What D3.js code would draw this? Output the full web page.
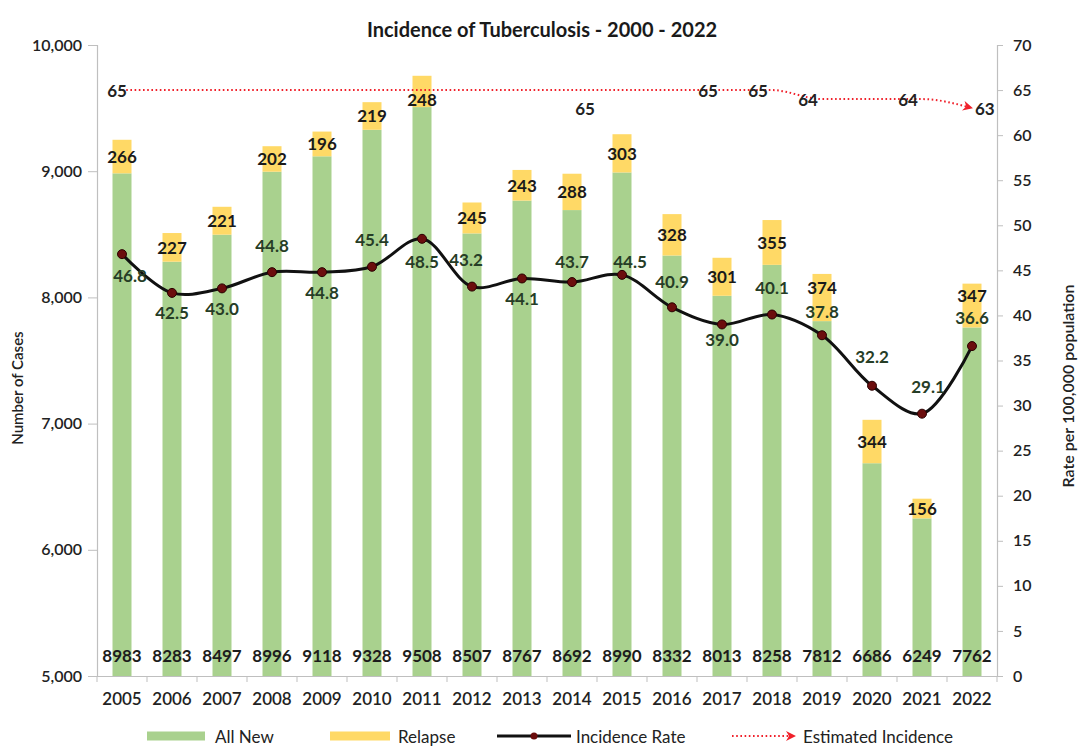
<!DOCTYPE html>
<html>
<head>
<meta charset="utf-8">
<script src="https://cdn.jsdelivr.net/npm/d3@7"></script>
<style>
  html, body { margin: 0; padding: 0; background: #ffffff; }
  svg { display: block; font-family: Lato, "Open Sans", sans-serif; }
</style>
</head>
<body>
<svg id="chart" width="1082" height="747"></svg>
<script>
// ---------- data ----------
const years = ["2005","2006","2007","2008","2009","2010","2011","2012","2013","2014","2015","2016","2017","2018","2019","2020","2021","2022"];
const allNew = [8983, 8283, 8497, 8996, 9118, 9328, 9508, 8507, 8767, 8692, 8990, 8332, 8013, 8258, 7812, 6686, 6249, 7762];
const relapse = [266, 227, 221, 202, 196, 219, 248, 245, 243, 288, 303, 328, 301, 355, 374, 344, 156, 347];
const incidenceRate = [46.8, 42.5, 43.0, 44.8, 44.8, 45.4, 48.5, 43.2, 44.1, 43.7, 44.5, 40.9, 39.0, 40.1, 37.8, 32.2, 29.1, 36.6];
const estimatedIncidence = [65, 65, 65, 65, 65, 65, 65, 65, 65, 65, 65, 65, 65, 65, 64, 64, 64, 63];
const estimatedLabelYears = ["2005", "2014", "2017", "2018", "2019", "2021", "2022"];
const leftTicks = [5000, 6000, 7000, 8000, 9000, 10000];
const rightTicks = [0, 5, 10, 15, 20, 25, 30, 35, 40, 45, 50, 55, 60, 65, 70];
const seriesNames = ["All New", "Relapse", "Incidence Rate", "Estimated Incidence"];
const titleText = "Incidence of Tuberculosis - 2000 - 2022";

// ---------- layout / style ----------
const L = 97, R = 997, T = 45, B = 676;
const GREEN = "#a9d18e", YELLOW = "#ffd966", RED = "#f0202a", AXIS = "#bfbfbf";
// label placement (dx, dy) for rate labels
const rateLabelPos = [[8,21],[0,20],[0,20],[0,-27],[0,20],[0,-27],[0,23],[-6,-27],[0,20],[0,-21],[8,-13],[0,-26],[0,15],[0,-27],[0,-24],[0,-29],[6,-27],[0,-29]];
const relapseLabelDy = {"2011": 8, "2022": -10, "2019": -10};
const estLabelPos = {"2005":[-5,0,"middle"],"2014":[13,18,"middle"],"2017":[-14,0,"middle"],"2018":[-14,0,"middle"],"2019":[-14,0,"middle"],"2021":[-14,0,"middle"],"2022":[3,0,"start"]};

const svg = d3.select("#chart");

const x = d3.scaleBand().domain(years).range([L, R]).paddingInner(0.62).paddingOuter(0.31);
const yL = d3.scaleLinear().domain([5000, 10000]).range([B, T]);
const yR = d3.scaleLinear().domain([0, 70]).range([B, T]);
const cx = d => x(d) + x.bandwidth() / 2;

// ---------- title ----------
svg.append("text").attr("x", 542).attr("y", 29).attr("text-anchor", "middle")
  .attr("dominant-baseline", "central").attr("font-size", 20).attr("font-weight", 700)
  .attr("fill", "#1a1a1a").text(titleText);

// ---------- bars ----------
const rows = years.map((y, i) => ({ year: y, n: allNew[i], r: relapse[i], rate: incidenceRate[i], est: estimatedIncidence[i] }));

svg.append("g").selectAll("rect").data(rows).join("rect")
  .attr("x", d => x(d.year)).attr("width", x.bandwidth())
  .attr("y", d => yL(d.n)).attr("height", d => yL(5000) - yL(d.n))
  .attr("fill", GREEN);

svg.append("g").selectAll("rect").data(rows).join("rect")
  .attr("x", d => x(d.year)).attr("width", x.bandwidth())
  .attr("y", d => yL(d.n + d.r)).attr("height", d => yL(d.n) - yL(d.n + d.r))
  .attr("fill", YELLOW);

// ---------- axes ----------
const gL = svg.append("g").attr("transform", `translate(${L},0)`)
  .call(d3.axisLeft(yL).tickValues(leftTicks).tickFormat(d3.format(",")).tickSize(9).tickPadding(6));
const gR = svg.append("g").attr("transform", `translate(${R},0)`)
  .call(d3.axisRight(yR).tickValues(rightTicks).tickSize(6).tickPadding(10));
const gX = svg.append("g").attr("transform", `translate(0,${B})`)
  .call(d3.axisBottom(x).tickSize(0).tickPadding(17));
[gL, gR, gX].forEach(g => {
  g.select(".domain").attr("stroke", AXIS).attr("stroke-width", 1.2);
  g.selectAll(".tick line").attr("stroke", AXIS);
  g.selectAll(".tick text").attr("font-size", 16).attr("font-weight", 600).attr("fill", "#222")
    .attr("font-family", "Lato, sans-serif");
});
gX.selectAll(".tick text").attr("font-size", 17);
gX.select(".domain").attr("d", `M${L},0.5H${R}`);
// category separator ticks
gX.append("g").selectAll("line").data(years.concat(["__end"])).join("line")
  .attr("x1", (d, i) => L + i * x.step()).attr("x2", (d, i) => L + i * x.step())
  .attr("y1", 0).attr("y2", 6).attr("stroke", AXIS);

// axis titles
svg.append("text").attr("transform", "translate(17,388) rotate(-90)")
  .attr("text-anchor", "middle").attr("dominant-baseline", "central")
  .attr("font-size", 15).attr("font-weight", 600).attr("fill", "#222").text("Number of Cases");
svg.append("text").attr("transform", "translate(1067,386) rotate(-90)")
  .attr("text-anchor", "middle").attr("dominant-baseline", "central")
  .attr("font-size", 16).attr("font-weight", 600).attr("fill", "#222").text("Rate per 100,000 population");

// ---------- estimated incidence (dotted red w/ arrow) ----------
const defs = svg.append("defs");
defs.append("marker").attr("id", "arrow").attr("viewBox", "0 0 10 10")
  .attr("refX", 9).attr("refY", 5).attr("markerWidth", 5).attr("markerHeight", 5)
  .attr("markerUnits", "strokeWidth").attr("orient", "auto")
  .append("path").attr("d", "M0,0L10,5L0,10L3,5Z").attr("fill", RED);

const estLine = d3.line().x(d => cx(d.year)).y(d => yR(d.est)).curve(d3.curveMonotoneX);
svg.append("path").datum(rows).attr("d", estLine)
  .attr("fill", "none").attr("stroke", RED).attr("stroke-width", 2)
  .attr("stroke-dasharray", "1.6,2.6").attr("marker-end", "url(#arrow)");

svg.append("g").selectAll("text").data(rows.filter(d => estimatedLabelYears.includes(d.year))).join("text")
  .attr("x", d => cx(d.year) + estLabelPos[d.year][0])
  .attr("y", d => yR(d.est) + estLabelPos[d.year][1])
  .attr("text-anchor", d => estLabelPos[d.year][2]).attr("dominant-baseline", "central")
  .attr("font-size", 17).attr("font-weight", 700).attr("fill", "#222")
  .text(d => d.est);

// ---------- incidence rate line ----------
const rateLine = d3.line().x(d => cx(d.year)).y(d => yR(d.rate)).curve(d3.curveCatmullRom.alpha(0.5));
svg.append("path").datum(rows).attr("d", rateLine)
  .attr("fill", "none").attr("stroke", "#111").attr("stroke-width", 3);
svg.append("g").selectAll("circle").data(rows).join("circle")
  .attr("cx", d => cx(d.year)).attr("cy", d => yR(d.rate)).attr("r", 4.5)
  .attr("fill", "#6b0d0d").attr("stroke", "#2a0000").attr("stroke-width", 1);

// ---------- data labels ----------
// relapse labels (centered in yellow segment)
svg.append("g").selectAll("text").data(rows).join("text")
  .attr("x", d => cx(d.year))
  .attr("y", d => (yL(d.n) + yL(d.n + d.r)) / 2 + (relapseLabelDy[d.year] || 0))
  .attr("text-anchor", "middle").attr("dominant-baseline", "central")
  .attr("font-size", 17).attr("font-weight", 700).attr("fill", "#1a1a1a")
  .text(d => d.r);

// all new labels at bar base
svg.append("g").selectAll("text").data(rows).join("text")
  .attr("x", d => cx(d.year)).attr("y", B - 21)
  .attr("text-anchor", "middle").attr("dominant-baseline", "central")
  .attr("font-size", 17).attr("font-weight", 700).attr("fill", "#1c1c1c")
  .text(d => d.n);

// rate labels
svg.append("g").selectAll("text").data(rows).join("text")
  .attr("x", (d, i) => cx(d.year) + rateLabelPos[i][0])
  .attr("y", (d, i) => yR(d.rate) + rateLabelPos[i][1])
  .attr("text-anchor", "middle").attr("dominant-baseline", "central")
  .attr("font-size", 17).attr("font-weight", 700).attr("fill", "#263d26")
  .text(d => d3.format(".1f")(d.rate));

// ---------- legend ----------
const lg = svg.append("g").attr("font-size", 17).attr("fill", "#222");
const LY = 736;
lg.append("rect").attr("x", 147).attr("y", LY - 4.5).attr("width", 58).attr("height", 9).attr("fill", GREEN);
lg.append("text").attr("x", 215).attr("y", LY).attr("dominant-baseline", "central").attr("fill", "#222").text(seriesNames[0]);
lg.append("rect").attr("x", 330).attr("y", LY - 4.5).attr("width", 60).attr("height", 9).attr("fill", YELLOW);
lg.append("text").attr("x", 398).attr("y", LY).attr("dominant-baseline", "central").attr("fill", "#222").text(seriesNames[1]);
lg.append("line").attr("x1", 497).attr("x2", 571).attr("y1", LY).attr("y2", LY).attr("stroke", "#111").attr("stroke-width", 3);
lg.append("circle").attr("cx", 534).attr("cy", LY).attr("r", 3.5).attr("fill", "#6b0d0d");
lg.append("text").attr("x", 576).attr("y", LY).attr("dominant-baseline", "central").attr("fill", "#222").text(seriesNames[2]);
lg.append("line").attr("x1", 732).attr("x2", 795).attr("y1", LY).attr("y2", LY)
  .attr("stroke", RED).attr("stroke-width", 2).attr("stroke-dasharray", "1.6,2.6").attr("marker-end", "url(#arrow)");
lg.append("text").attr("x", 803).attr("y", LY).attr("dominant-baseline", "central").attr("fill", "#222").text(seriesNames[3]);
</script>
</body>
</html>
